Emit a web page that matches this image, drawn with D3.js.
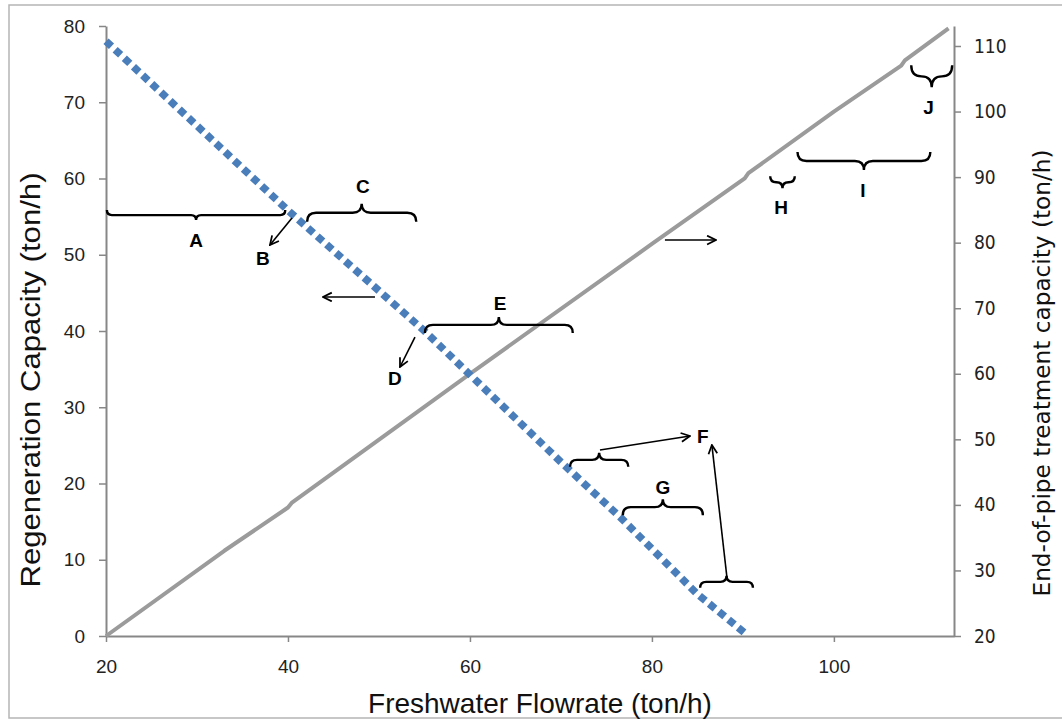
<!DOCTYPE html>
<html>
<head>
<meta charset="utf-8">
<script src="https://cdn.jsdelivr.net/npm/d3@7"></script>
<style>
  html, body { margin: 0; padding: 0; background: #fff; }
  svg { display: block; }
</style>
</head>
<body>
<svg id="chart" width="1062" height="721"></svg>
<script>
// ---------- data ----------
const xTicks = [20, 40, 60, 80, 100];
const leftTicks = [0, 10, 20, 30, 40, 50, 60, 70, 80];
const rightTicks = [20, 30, 40, 50, 60, 70, 80, 90, 100, 110];

// Regeneration capacity (left axis) vs freshwater flowrate
const regenFlow = [20, 40.2, 55, 70.1, 76.5, 84.9, 90.2];
const regenCap  = [78, 55.6, 40, 22.7, 15.6, 5.6, 0.4];

// End-of-pipe treatment capacity (right axis) vs freshwater flowrate
const eopFlow = [20, 33, 40.0, 40.4, 60, 80, 90.2, 90.6, 100, 107.4, 107.8, 112.6];
const eopCap  = [20, 33, 39.6, 40.3, 60, 79.8, 89.8, 90.6, 100, 107.0, 107.8, 112.7];

// annotation braces (x range in flowrate, y in left-axis units)
const braceX1  = [20.1, 42.1, 55.05, 71.0, 85.3, 76.8, 93.0, 96.0, 108.5];
const braceX2  = [39.7, 54.1, 71.3, 77.4, 91.1, 85.6, 95.7, 110.6, 113.0];
const braceY   = [55.2, 55.5, 40.8, 23.1, 7.1, 16.9, 59.5, 62.3, 73.4];
const braceDir = ["down", "up", "up", "up", "up", "up", "down", "down", "down"];

const labelText = ["A", "B", "C", "D", "E", "F", "G", "H", "I", "J"];
const labelX    = [29.9, 37.25, 48.24, 51.76, 63.3, 85.6, 81.2, 94.2, 103.2, 110.4];
const labelY    = [51.9, 49.57, 59.0, 33.84, 43.67, 26.23, 19.54, 56.26, 58.5, 69.4];

// arrows: from (x1,y1) to (x2,y2)
const arrowX1 = [40.44, 49.56, 53.96, 81.43, 74.29, 88.24];
const arrowY1 = [54.82, 44.46, 39.21, 51.93, 24.39, 7.74];
const arrowX2 = [38.02, 43.85, 52.31, 87.03, 84.18, 86.59];
const arrowY2 = [51.28, 44.46, 35.28, 51.93, 26.23, 25.05];

// ---------- layout ----------
const svg = d3.select("#chart");
const L = 106, R = 954, T = 26, B = 636;

const x = d3.scaleLinear().domain([20, 113.2]).range([L, R]);
const yL = d3.scaleLinear().domain([0, 80]).range([B, T]);
const yR = d3.scaleLinear().domain([20, 113.05]).range([B, T]);

const axisColor = "#878787";
const sans = "Liberation Sans, Arial, sans-serif";
const tah = "DejaVu Sans Condensed, DejaVu Sans, sans-serif";

// outer border
svg.append("rect").attr("x", 9).attr("y", 5).attr("width", 1070).attr("height", 713)
  .attr("fill", "none").attr("stroke", "#b5b5b5").attr("stroke-width", 1.5);

// axes
function styleAxis(g) {
  g.select(".domain").attr("stroke", axisColor).attr("stroke-width", 2);
  g.selectAll(".tick line").attr("stroke", axisColor).attr("stroke-width", 1.5);
  g.selectAll(".tick text").attr("fill", "#222");
}

const gx = svg.append("g").attr("transform", `translate(0,${B})`)
  .call(d3.axisBottom(x).tickValues(xTicks).tickSize(6).tickSizeOuter(0).tickPadding(18))
  .call(styleAxis);
gx.selectAll(".tick text").attr("font-family", sans).attr("font-size", 19);

const gyl = svg.append("g").attr("transform", `translate(${L},0)`)
  .call(d3.axisLeft(yL).tickValues(leftTicks).tickSize(7).tickSizeOuter(0).tickPadding(14))
  .call(styleAxis);
gyl.selectAll(".tick text").attr("font-family", sans).attr("font-size", 19);

const gyr = svg.append("g").attr("transform", `translate(${R},0)`)
  .call(d3.axisRight(yR).tickValues(rightTicks).tickSize(7).tickSizeOuter(0).tickPadding(13))
  .call(styleAxis);
gyr.selectAll(".tick text").attr("font-family", tah).attr("font-size", 19);

// axis titles
svg.append("text").attr("x", 540).attr("y", 713).attr("text-anchor", "middle")
  .attr("font-family", sans).attr("font-size", 28)
  .attr("fill", "#111").text("Freshwater Flowrate (ton/h)");

svg.append("text").attr("transform", "translate(40,380) rotate(-90)").attr("text-anchor", "middle")
  .attr("font-family", sans).attr("font-size", 27)
  .attr("textLength", 415).attr("lengthAdjust", "spacingAndGlyphs")
  .attr("fill", "#111").text("Regeneration Capacity (ton/h)");

svg.append("text").attr("transform", "translate(1050,373) rotate(-90)").attr("text-anchor", "middle")
  .attr("font-family", tah).attr("font-size", 23)
  .attr("textLength", 447).attr("lengthAdjust", "spacingAndGlyphs")
  .attr("fill", "#111").text("End-of-pipe treatment capacity (ton/h)");

// series
const eopLine = d3.line().x(d => x(d[0])).y(d => yR(d[1]));
svg.append("path").datum(d3.zip(eopFlow, eopCap)).attr("d", eopLine)
  .attr("fill", "none").attr("stroke", "#9b9b9b").attr("stroke-width", 4)
  .attr("stroke-linejoin", "round");

const regenLine = d3.line().x(d => x(d[0])).y(d => yL(d[1]));
svg.append("path").datum(d3.zip(regenFlow, regenCap)).attr("d", regenLine)
  .attr("fill", "none").attr("stroke", "#4a7ebb").attr("stroke-width", 7.5)
  .attr("stroke-dasharray", "7.5,5").attr("stroke-linecap", "butt");

// arrow marker
svg.append("defs").append("marker").attr("id", "ah")
  .attr("viewBox", "0 0 10 10").attr("refX", 9).attr("refY", 5)
  .attr("markerWidth", 11).attr("markerHeight", 11).attr("orient", "auto")
  .attr("markerUnits", "userSpaceOnUse")
  .append("path").attr("d", "M1,1 L9,5 L1,9").attr("fill", "none")
  .attr("stroke", "#000").attr("stroke-width", 1.6);

// braces
const braceDepth = [5, 9, 8, 7, 6, 8, 6, 9, 11];
const ann = svg.append("g").attr("fill", "none").attr("stroke", "#000").attr("stroke-width", 2.4);
braceX1.forEach((_, i) => {
  const x1 = x(braceX1[i]), x2 = x(braceX2[i]), y = yL(braceY[i]);
  const d = braceDepth[i];
  const s = braceDir[i] === "up" ? 1 : -1; // ends below (up) / above (down)
  const xm = (x1 + x2) / 2;
  const r = Math.min(d, (x2 - x1) / 4);
  const p = `M${x1},${y + s * d} Q${x1},${y} ${x1 + r},${y} L${xm - r},${y} Q${xm},${y} ${xm},${y - s * d} Q${xm},${y} ${xm + r},${y} L${x2 - r},${y} Q${x2},${y} ${x2},${y + s * d}`;
  ann.append("path").attr("d", p);
});

// arrows
arrowX1.forEach((_, i) => {
  svg.append("line")
    .attr("x1", x(arrowX1[i])).attr("y1", yL(arrowY1[i]))
    .attr("x2", x(arrowX2[i])).attr("y2", yL(arrowY2[i]))
    .attr("stroke", "#000").attr("stroke-width", 1.6).attr("marker-end", "url(#ah)");
});

// labels
labelText.forEach((t, i) => {
  svg.append("text").attr("x", x(labelX[i])).attr("y", yL(labelY[i]))
    .attr("dy", "0.36em").attr("text-anchor", "middle")
    .attr("font-family", sans).attr("font-size", 19)
    .attr("font-weight", "bold")
    .attr("fill", "#000").text(t);
});
</script>
</body>
</html>
